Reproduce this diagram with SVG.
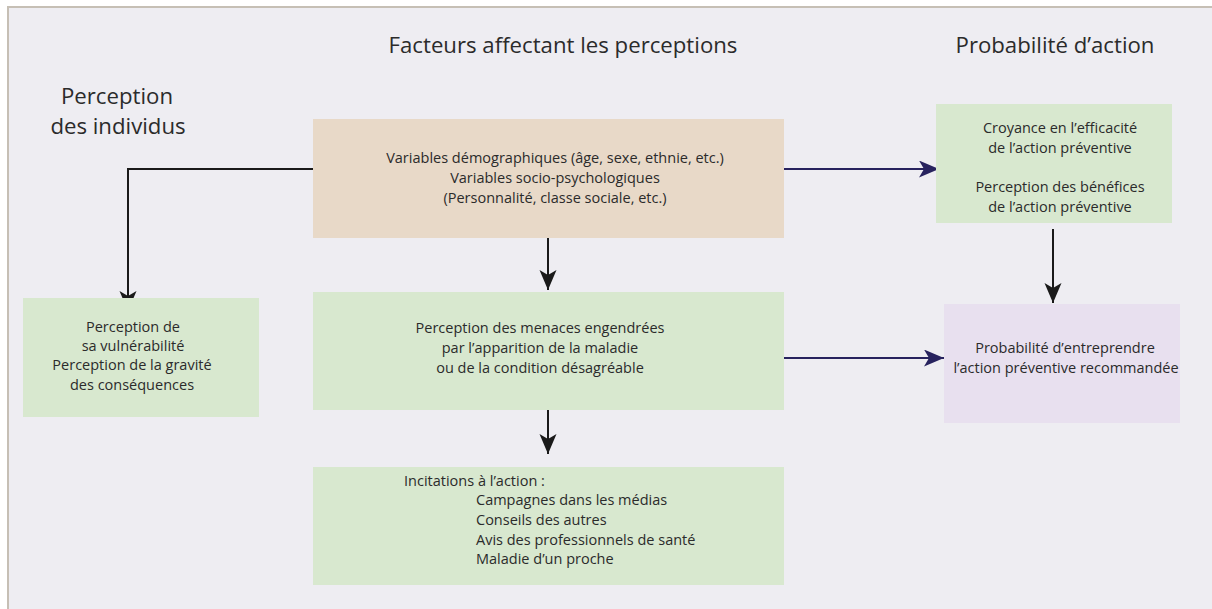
<svg xmlns="http://www.w3.org/2000/svg" width="1212" height="609" viewBox="0 0 1212 609">
<defs>
<marker id="ahK" markerUnits="userSpaceOnUse" markerWidth="22" markerHeight="18" refX="20" refY="8.5" orient="auto">
<path d="M0,0 L20,8.5 L0,17 L5,8.5 z" fill="#1a1a1a"/>
</marker>
<marker id="ahB" markerUnits="userSpaceOnUse" markerWidth="22" markerHeight="18" refX="20" refY="8.5" orient="auto">
<path d="M0,0 L20,8.5 L0,17 L5,8.5 z" fill="#27225e"/>
</marker>
</defs>
<style>
text{font-family:"Open Sans","Noto Sans","Liberation Sans",sans-serif;fill:#2b2b2b}
.h{font-size:22.2px}
.t{font-size:14.5px}
.c{text-anchor:middle}
.k{stroke:#1a1a1a;stroke-width:2;fill:none}
.b{stroke:#27225e;stroke-width:2;fill:none}
</style>
<rect x="0" y="0" width="1212" height="609" fill="#ffffff"/>
<rect x="8" y="7" width="1204" height="602" fill="#eeedf2"/>
<path d="M8,609 L8,7 L1212,7" fill="none" stroke="#c6bfb5" stroke-width="2"/>

<g id="titles">
<text class="h c" x="563" y="53">Facteurs affectant les perceptions</text>
<text class="h c" x="1055" y="53">Probabilité d’action</text>
<text class="h c" x="117" y="104">Perception</text>
<text class="h c" x="118" y="134">des individus</text>
</g>

<g id="connectors">
<path class="k" d="M313,169 L128,169 L128,311" marker-end="url(#ahK)"/>
<path class="k" d="M548,238 L548,290" marker-end="url(#ahK)"/>
<path class="k" d="M548,401 L548,454" marker-end="url(#ahK)"/>
<path class="k" d="M1053,229 L1053,303" marker-end="url(#ahK)"/>
<path class="b" d="M780,169 L939,169" marker-end="url(#ahB)"/>
<path class="b" d="M784,358 L944,358" marker-end="url(#ahB)"/>
</g>

<g id="demographics">
<rect x="313" y="119" width="471" height="119" fill="#e8d9c8"/>
<text class="t c" x="555" y="163">Variables démographiques (âge, sexe, ethnie, etc.)</text>
<text class="t c" x="555" y="183">Variables socio-psychologiques</text>
<text class="t c" x="555" y="203">(Personnalité, classe sociale, etc.)</text>
</g>

<g id="vulnerability">
<rect x="23" y="298" width="236" height="119" fill="#d8e8cf"/>
<text class="t c" x="133" y="332">Perception de</text>
<text class="t c" x="133" y="351">sa vulnérabilité</text>
<text class="t c" x="132" y="370">Perception de la gravité</text>
<text class="t c" x="132" y="390">des conséquences</text>
</g>

<g id="threat">
<rect x="313" y="292" width="471" height="118" fill="#d8e8cf"/>
<text class="t c" x="540" y="333">Perception des menaces engendrées</text>
<text class="t c" x="540" y="353">par l’apparition de la maladie</text>
<text class="t c" x="540" y="373">ou de la condition désagréable</text>
</g>

<g id="cues">
<rect x="313" y="467" width="471" height="118" fill="#d8e8cf"/>
<text class="t" x="404" y="486">Incitations à l’action :</text>
<text class="t" x="476" y="505">Campagnes dans les médias</text>
<text class="t" x="476" y="525">Conseils des autres</text>
<text class="t" x="476" y="545">Avis des professionnels de santé</text>
<text class="t" x="476" y="564">Maladie d’un proche</text>
</g>

<g id="benefits">
<rect x="936" y="104" width="236" height="119" fill="#d8e8cf"/>
<text class="t c" x="1060" y="133">Croyance en l’efficacité</text>
<text class="t c" x="1060" y="153">de l’action préventive</text>
<text class="t c" x="1060" y="192">Perception des bénéfices</text>
<text class="t c" x="1060" y="212">de l’action préventive</text>
</g>

<g id="likelihood">
<rect x="944" y="304" width="236" height="119" fill="#e8e0ef"/>
<text class="t c" x="1065" y="353">Probabilité d’entreprendre</text>
<text class="t c" x="1066" y="373">l’action préventive recommandée</text>
</g>
</svg>
